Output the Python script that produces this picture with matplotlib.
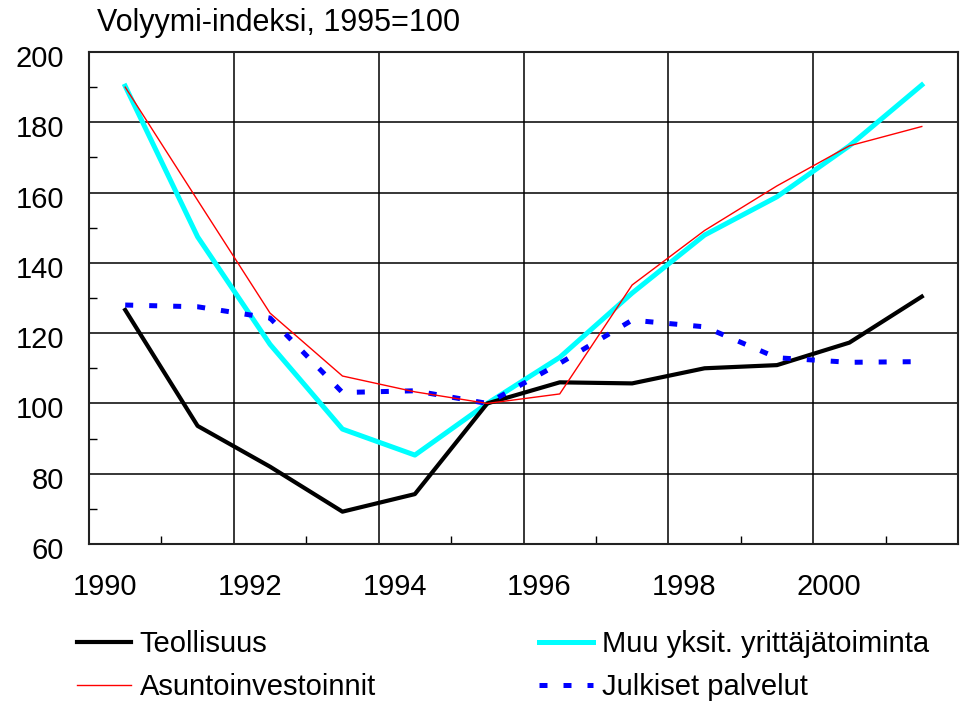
import numpy as np
import matplotlib.pyplot as plt
import matplotlib.transforms as mtransforms
from matplotlib.lines import Line2D

plt.rcParams['font.family'] = ['Liberation Sans', 'DejaVu Sans']

# data (volume index, 1995=100), points at mid-year
years = np.arange(1990, 2002) + 0.5
teollisuus = [126.6, 93.6, 82.0, 69.2, 74.2, 100.0, 106.0, 105.7, 110.0, 110.9, 117.3, 130.4]
muu_yksit = [190.3, 147.4, 116.8, 92.7, 85.3, 100.0, 113.1, 131.4, 147.9, 158.8, 173.3, 190.6]
asunto = [190.0, 157.8, 125.7, 107.8, 103.3, 100.0, 102.7, 133.7, 149.2, 161.9, 173.3, 178.8]
julkiset = [128.0, 127.5, 124.3, 103.1, 103.6, 100.0, 111.4, 123.7, 121.8, 113.0, 111.7, 111.9]

x_labels = ['1990', '1992', '1994', '1996', '1998', '2000']
y_ticks = [60, 80, 100, 120, 140, 160, 180, 200]

fig = plt.figure(figsize=(9.67, 7.01), dpi=100)
ax = fig.add_axes([89 / 967, 1 - 544 / 701, (958 - 89) / 967, (544 - 52) / 701])

ax.plot(years, muu_yksit, color='#00ffff', lw=3.6, zorder=3)
ax.plot(years, teollisuus, color='black', lw=3.0, zorder=4)
ax.plot(years, julkiset, color='#0000ff', lw=3.6, dashes=(1.6, 3.2), zorder=5)
ax.plot(years, asunto, color='#ff0000', lw=1.0, zorder=6)

ax.set_xlim(1990, 2002)
ax.set_ylim(60, 200)
ax.set_xticks([1990, 1992, 1994, 1996, 1998, 2000])
ax.set_xticklabels(x_labels)
ax.set_xticks(np.arange(1991, 2002, 2), minor=True)
ax.set_yticks(y_ticks)
ax.set_yticks(np.arange(70, 200, 20), minor=True)
ax.grid(True, which='major', color='black', lw=1.1)
ax.tick_params(which='major', length=0, labelsize=21)
ax.tick_params(axis='x', which='major', pad=21)
ax.tick_params(axis='y', which='major', pad=18)
ax.tick_params(which='minor', direction='in', length=6, width=1.0, color='black')
for s in ax.spines.values():
    s.set_linewidth(1.5)
    s.set_color('#222222')

# shift labels like the original
dx = mtransforms.ScaledTranslation(16 / 100, 0, fig.dpi_scale_trans)
for lab in ax.get_xticklabels():
    lab.set_transform(lab.get_transform() + dx)
dy = mtransforms.ScaledTranslation(0, -4 / 100, fig.dpi_scale_trans)
for lab in ax.get_yticklabels():
    lab.set_transform(lab.get_transform() + dy)

fig.text(97 / 967, 1 - 23 / 701, 'Volyymi-indeksi, 1995=100', fontsize=22, va='center', ha='left')

h1 = [Line2D([], [], color='black', lw=3.0), Line2D([], [], color='#ff0000', lw=1.0)]
h2 = [Line2D([], [], color='#00ffff', lw=3.6),
      Line2D([], [], color='#0000ff', lw=3.6, dashes=(1.6, 3.2))]
leg_kw = dict(frameon=False, fontsize=21, handlelength=1.85, handletextpad=0.3,
              labelspacing=0.52, borderpad=0, borderaxespad=0, loc='upper left')
leg1 = fig.legend(h1, ['Teollisuus', 'Asuntoinvestoinnit'],
                  bbox_to_anchor=(77 / 967, 1 - 630 / 701), **leg_kw)
leg2 = fig.legend(h2, ['Muu yksit. yrittäjätoiminta', 'Julkiset palvelut'],
                  bbox_to_anchor=(539 / 967, 1 - 630 / 701), **leg_kw)

fig.savefig('out.png', dpi=100)
